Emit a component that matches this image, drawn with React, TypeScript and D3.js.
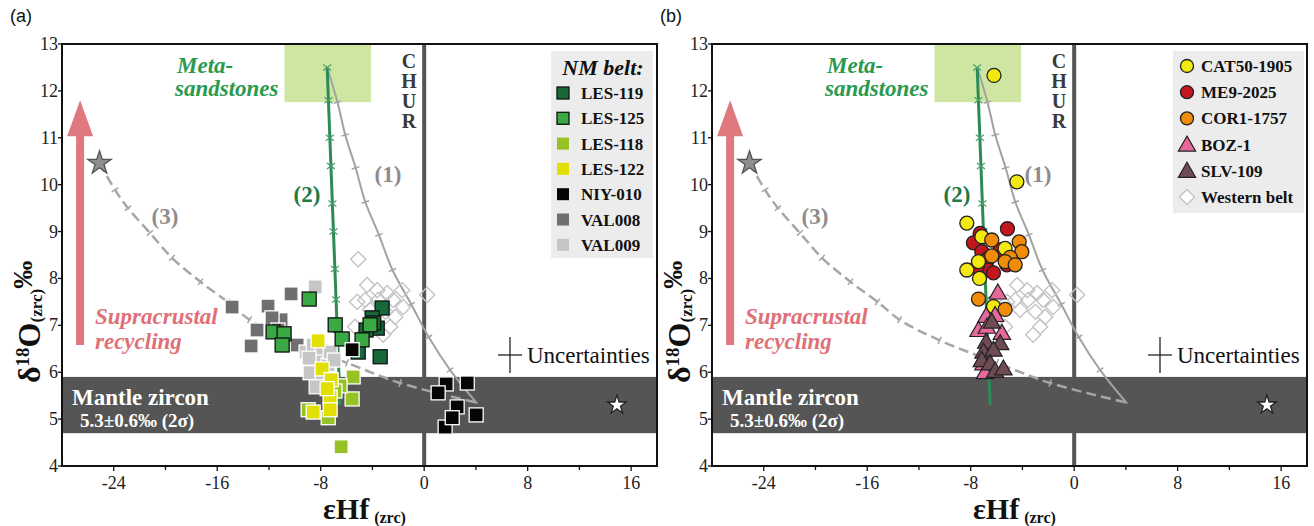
import React from 'react';
import * as d3 from 'd3';

// ---------- data ----------
const X_DOMAIN = [-28, 18];
const Y_DOMAIN = [4, 13];
const X_TICKS = [-24, -16, -8, 0, 8, 16];
const X_MINOR = [-20, -12, -4, 4, 12];
const Y_TICKS = [4, 5, 6, 7, 8, 9, 10, 11, 12, 13];

const MANTLE = [4.7, 5.9];
const META_BOX = [[-10.8, 11.76], [-4.1, 13]];
const MANTLE_STAR = [14.9, 5.3];
const CRUST_STAR = [-25.1, 10.46];
const ARROW = [[-26.6, 6.58], [-26.6, 11.8]];

const CURVE1 = [[-7.5, 12.5], [-6.7, 11.76], [-6.1, 11.06], [-5.3, 10.36], [-4.55, 9.63], [-3.5, 8.93], [-2.45, 8.18], [-1.0, 7.45], [0.35, 6.75], [2.0, 6.05], [4.1, 5.33]];
const CURVE2 = [[-7.5, 12.5], [-6.5, 5.3]];
const CURVE2_TICKS = [12.5, 11.8, 11.0, 10.4, 9.6, 9.0, 8.2, 7.55, 6.9];
const CURVE3 = [[-25.1, 10.46], [-23.9, 9.89], [-22.9, 9.5], [-21.2, 8.97], [-19.5, 8.44], [-17.3, 7.93], [-15.2, 7.5], [-13.5, 7.12], [-10.4, 6.68], [-5.96, 6.2], [-1.86, 5.77], [4.1, 5.35]];

const WESTERN = [[-5.1, 8.41], [-4.41, 7.86], [-3.63, 7.75], [-2.86, 7.69], [-1.7, 7.75], [0.23, 7.65], [-5.18, 7.5], [-4.56, 7.54], [-3.56, 7.54], [-2.4, 7.54], [-1.62, 7.39], [-2.24, 7.18], [-2.63, 6.97], [-3.17, 6.8], [-5.34, 6.97], [-4.18, 7.33], [-3.0, 7.29]];

const LES119 = [[-3.25, 7.37], [-4.02, 7.16], [-3.63, 6.94], [-3.4, 6.33], [-5.1, 6.43], [-4.49, 6.9], [-3.9, 7.05]];
const LES125 = [[-8.89, 7.56], [-6.88, 7.01], [-6.34, 6.71], [-4.8, 6.69], [-4.18, 7.01], [-11.68, 6.86], [-10.83, 6.82], [-10.98, 6.58]];
const LES118 = [[-5.49, 5.9], [-5.57, 5.43], [-6.5, 5.71], [-8.97, 5.2], [-6.42, 4.41], [-7.42, 5.03], [-6.9, 5.6]];
const LES122 = [[-8.2, 6.67], [-7.89, 6.07], [-7.19, 5.84], [-7.27, 5.47], [-7.27, 5.2], [-8.58, 5.15], [-7.5, 5.65]];
const NIY010 = [[-5.57, 6.48], [1.7, 5.75], [3.33, 5.77], [1.08, 5.56], [2.55, 5.26], [4.02, 5.09], [1.62, 4.83], [2.17, 5.03]];
const VAL008 = [[-14.85, 7.39], [-12.07, 7.41], [-10.29, 7.67], [-12.92, 6.9], [-13.38, 6.56], [-11.06, 7.12], [-11.76, 7.16], [-9.82, 6.58], [-11.3, 6.9]];
const VAL009 = [[-8.43, 7.82], [-9.13, 6.43], [-8.58, 6.58], [-7.89, 6.47], [-8.28, 6.22], [-7.42, 6.16], [-8.82, 5.99], [-7.89, 5.88], [-8.35, 5.69], [-7.27, 6.43], [-6.96, 6.26], [-8.9, 6.3]];

const CAT50 = [[-6.2, 12.33], [-4.43, 10.06], [-8.3, 9.18], [-7.14, 8.89], [-5.34, 8.64], [-7.4, 8.36], [-8.3, 8.18], [-7.32, 8.0], [-6.24, 7.4]];
const ME9 = [[-5.16, 9.06], [-7.27, 8.96], [-7.79, 8.76], [-7.14, 8.57], [-6.63, 8.43], [-6.63, 8.18], [-6.24, 8.12], [-5.2, 8.29], [-5.72, 8.61], [-7.5, 8.25]];
const COR1 = [[-6.37, 8.82], [-4.25, 8.78], [-4.05, 8.57], [-6.37, 8.48], [-4.95, 8.45], [-5.34, 8.36], [-4.56, 8.29], [-7.4, 7.56], [-5.34, 7.34]];
const BOZ1 = [[-5.9, 7.7], [-6.8, 7.2], [-6.11, 7.22], [-7.4, 6.9], [-5.59, 6.84], [-6.75, 6.97], [-7.01, 6.19], [-6.9, 6.0]];
const SLV109 = [[-6.37, 7.08], [-6.8, 6.65], [-5.72, 6.62], [-7.01, 6.44], [-6.24, 6.48], [-7.14, 6.26], [-6.5, 6.19], [-6.11, 6.03], [-5.47, 6.08]];

const LEGEND_A = ['LES-119', 'LES-125', 'LES-118', 'LES-122', 'NIY-010', 'VAL008', 'VAL009'];
const LEGEND_B = ['CAT50-1905', 'ME9-2025', 'COR1-1757', 'BOZ-1', 'SLV-109', 'Western belt'];

// ---------- styles ----------
const SERIF = '"Liberation Serif", "Times New Roman", serif';
const SANS = '"Liberation Sans", Arial, sans-serif';
const SQ_STYLE: Record<string, { fill: string; stroke: string }> = {
  'LES-119': { fill: '#17693a', stroke: '#111' },
  'LES-125': { fill: '#3aa843', stroke: '#111' },
  'LES-118': { fill: '#97c225', stroke: '#fff' },
  'LES-122': { fill: '#e2df05', stroke: '#fff' },
  'NIY-010': { fill: '#050505', stroke: '#fff' },
  'VAL008': { fill: '#6f6f6f', stroke: '#fff' },
  'VAL009': { fill: '#c6c6c6', stroke: '#fff' },
};
const B_STYLE: Record<string, { fill: string; stroke: string; shape: string }> = {
  'CAT50-1905': { fill: '#f3e80f', stroke: '#222', shape: 'circle' },
  'ME9-2025': { fill: '#c4161f', stroke: '#222', shape: 'circle' },
  'COR1-1757': { fill: '#f08c07', stroke: '#222', shape: 'circle' },
  'BOZ-1': { fill: '#e9689c', stroke: '#222', shape: 'triangle' },
  'SLV-109': { fill: '#6f4b54', stroke: '#222', shape: 'triangle' },
  'Western belt': { fill: '#fff', stroke: '#c4c4c4', shape: 'diamond' },
};

const PLOT_L = 62, PLOT_R = 657, PLOT_T = 44, PLOT_B = 466;
const xs = d3.scaleLinear().domain(X_DOMAIN).range([PLOT_L, PLOT_R]);
const ys = d3.scaleLinear().domain(Y_DOMAIN).range([PLOT_B, PLOT_T]);

const triPath = d3.symbol(d3.symbolTriangle, 130)()!;
const diaPath = d3.symbol(d3.symbolSquare, 115)()!;
const starBig = d3.symbol(d3.symbolStar, 170)()!;
const starSmall = d3.symbol(d3.symbolStar, 110)()!;

function curveTicks(pts: number[][], len: number, key: string, color: string) {
  const out: any[] = [];
  for (let i = 1; i < pts.length - 1; i++) {
    const [x0, y0] = [xs(pts[i - 1][0]), ys(pts[i - 1][1])];
    const [x1, y1] = [xs(pts[i + 1][0]), ys(pts[i + 1][1])];
    const dx = x1 - x0, dy = y1 - y0;
    const n = Math.hypot(dx, dy);
    const px = -dy / n, py = dx / n;
    const cx = xs(pts[i][0]), cy = ys(pts[i][1]);
    out.push(<line key={key + i} x1={cx - px * len} y1={cy - py * len} x2={cx + px * len} y2={cy + py * len} stroke={color} strokeWidth={1.5} />);
  }
  return out;
}

function Square({ d, style }: any) {
  return <rect x={xs(d[0]) - 7} y={ys(d[1]) - 7} width={14} height={14} fill={style.fill} stroke={style.stroke} strokeWidth={1.3} />;
}

function Marker({ d, name }: { d: number[]; name: string }) {
  const st = B_STYLE[name];
  const x = xs(d[0]), y = ys(d[1]);
  if (st.shape === 'circle') return <circle cx={x} cy={y} r={7} fill={st.fill} stroke={st.stroke} strokeWidth={1.3} />;
  if (st.shape === 'triangle') return <path d={triPath} transform={`translate(${x},${y + 1.5})`} fill={st.fill} stroke={st.stroke} strokeWidth={1.2} />;
  return <path d={diaPath} transform={`translate(${x},${y}) rotate(45)`} fill="none" stroke={st.stroke} strokeWidth={1.4} />;
}

function Panel({ ox, tag, kind }: { ox: number; tag: string; kind: 'a' | 'b' }) {
  const line = d3.line<number[]>().x(d => xs(d[0])).y(d => ys(d[1])).curve(d3.curveCatmullRom);
  const straight = d3.line<number[]>().x(d => xs(d[0])).y(d => ys(d[1]));
  const g2 = CURVE2;
  const interpX = (yv: number) => g2[0][0] + (g2[1][0] - g2[0][0]) * (yv - g2[0][1]) / (g2[1][1] - g2[0][1]);
  const ax = xs(ARROW[0][0]);
  const ab = ys(ARROW[0][1]);
  const at = ys(ARROW[1][1]);
  return (
    <g transform={`translate(${ox},0)`}>
      <text x={10} y={22} fontFamily={SANS} fontSize={18} fill="#111">{tag}</text>
      <rect x={PLOT_L} y={PLOT_T} width={PLOT_R - PLOT_L} height={PLOT_B - PLOT_T} fill="#fff" />
      {/* meta-sandstone box */}
      <rect x={xs(META_BOX[0][0])} y={ys(META_BOX[1][1])} width={xs(META_BOX[1][0]) - xs(META_BOX[0][0])} height={ys(META_BOX[0][1]) - ys(META_BOX[1][1])} fill="#cfe6a2" />
      <text fontFamily={SERIF} fontWeight="bold" fontStyle="italic" fontSize={23} fill="#2a9a50">
        <tspan x={177} y={73}>Meta-</tspan>
        <tspan x={175} y={96}>sandstones</tspan>
      </text>
      {/* CHUR */}
      <line x1={xs(0)} x2={xs(0)} y1={PLOT_T} y2={PLOT_B} stroke="#555" strokeWidth={4} />
      {['C', 'H', 'U', 'R'].map((c, i) => (
        <text key={c} x={409} y={68 + i * 20} textAnchor="middle" fontFamily={SERIF} fontWeight="bold" fontSize={20} fill="#3a3a3a">{c}</text>
      ))}
      {/* mantle band */}
      <rect x={PLOT_L} y={ys(MANTLE[1])} width={PLOT_R - PLOT_L} height={ys(MANTLE[0]) - ys(MANTLE[1])} fill="#555555" />
      <text x={72} y={405} fontFamily={SERIF} fontWeight="bold" fontSize={23} fill="#fff">Mantle zircon</text>
      <text x={80} y={427} fontFamily={SERIF} fontWeight="bold" fontSize={19} fill="#fff">5.3±0.6‰ (2σ)</text>
      <path d={starSmall} transform={`translate(${xs(MANTLE_STAR[0])},${ys(MANTLE_STAR[1])})`} fill="#fff" stroke="#222" strokeWidth={1.3} />
      {/* pink arrow */}
      <rect x={ax - 4} y={at + 34} width={8} height={ab - at - 34} fill="#df787f" />
      <path d={`M${ax},${at} L${ax + 13},${at + 36} L${ax - 13},${at + 36} Z`} fill="#df787f" />
      <text fontFamily={SERIF} fontWeight="bold" fontStyle="italic" fontSize={23} fill="#df6f78">
        <tspan x={95} y={324}>Supracrustal</tspan>
        <tspan x={95} y={349}>recycling</tspan>
      </text>
      {/* curves */}
      <path d={line(CURVE1)!} fill="none" stroke="#a2a2a2" strokeWidth={2} />
      {curveTicks(CURVE1, 4, 'c1', '#a2a2a2')}
      <path d={line(CURVE3)!} fill="none" stroke="#a6a6a6" strokeWidth={2.5} strokeDasharray="10,5" />
      {curveTicks(CURVE3, 4, 'c3', '#a6a6a6')}
      <path d={straight(CURVE2)!} fill="none" stroke="#2e8b57" strokeWidth={3} />
      {CURVE2_TICKS.map((yv, i) => {
        const x = xs(interpX(yv)), y = ys(yv);
        return <path key={'g' + i} d={`M${x - 4},${y - 3}L${x + 4},${y + 3}M${x - 4},${y + 3}L${x + 4},${y - 3}`} stroke="#4aa06a" strokeWidth={1.2} />;
      })}
      <path d={starBig} transform={`translate(${xs(CRUST_STAR[0])},${ys(CRUST_STAR[1])})`} fill="#8e8e8e" stroke="#555" strokeWidth={1.3} />
      <text x={388} y={182} textAnchor="middle" fontFamily={SERIF} fontWeight="bold" fontSize={23} fill="#8c8c8c">(1)</text>
      <text x={307} y={202} textAnchor="middle" fontFamily={SERIF} fontWeight="bold" fontSize={23} fill="#1f7a45">(2)</text>
      <text x={165} y={224} textAnchor="middle" fontFamily={SERIF} fontWeight="bold" fontSize={23} fill="#8c8c8c">(3)</text>
      {/* uncertainties */}
      <line x1={498} x2={522} y1={355} y2={355} stroke="#222" strokeWidth={1.3} />
      <line x1={510} x2={510} y1={337} y2={373} stroke="#222" strokeWidth={1.3} />
      <text x={527} y={363} fontFamily={SERIF} fontSize={23} fill="#111">Uncertainties</text>
      {/* data */}
      {WESTERN.map((d, i) => <Marker key={'w' + i} d={d} name="Western belt" />)}
      {kind === 'a' && (
        <g>
          {VAL008.map((d, i) => <Square key={'v8' + i} d={d} style={SQ_STYLE['VAL008']} />)}
          {VAL009.map((d, i) => <Square key={'v9' + i} d={d} style={SQ_STYLE['VAL009']} />)}
          {LES118.map((d, i) => <Square key={'l8' + i} d={d} style={SQ_STYLE['LES-118']} />)}
          {LES122.map((d, i) => <Square key={'l2' + i} d={d} style={SQ_STYLE['LES-122']} />)}
          {LES119.map((d, i) => <Square key={'l9' + i} d={d} style={SQ_STYLE['LES-119']} />)}
          {LES125.map((d, i) => <Square key={'l5' + i} d={d} style={SQ_STYLE['LES-125']} />)}
          {NIY010.map((d, i) => <Square key={'n' + i} d={d} style={SQ_STYLE['NIY-010']} />)}
        </g>
      )}
      {kind === 'b' && (
        <g>
          {ME9.map((d, i) => <Marker key={'m' + i} d={d} name="ME9-2025" />)}
          {CAT50.map((d, i) => <Marker key={'c' + i} d={d} name="CAT50-1905" />)}
          {COR1.map((d, i) => <Marker key={'o' + i} d={d} name="COR1-1757" />)}
          {BOZ1.map((d, i) => <Marker key={'b' + i} d={d} name="BOZ-1" />)}
          {SLV109.map((d, i) => <Marker key={'s' + i} d={d} name="SLV-109" />)}
        </g>
      )}
      {/* legend */}
      {kind === 'a' ? (
        <g>
          <rect x={551} y={51} width={102} height={207} fill="#ececec" />
          <text x={603} y={75} textAnchor="middle" fontFamily={SERIF} fontWeight="bold" fontStyle="italic" fontSize={22} fill="#111">NM belt:</text>
          {LEGEND_A.map((n, i) => {
            const y = 93 + i * 25.3;
            const st = SQ_STYLE[n];
            return (
              <g key={n}>
                <rect x={557} y={y - 6} width={12} height={12} fill={st.fill} stroke={st.stroke === '#fff' ? 'none' : st.stroke} strokeWidth={1.3} />
                <text x={581} y={y + 6} fontFamily={SERIF} fontWeight="bold" fontSize={17} fill="#111">{n}</text>
              </g>
            );
          })}
        </g>
      ) : (
        <g>
          <rect x={523} y={51} width={131} height={162} fill="#ececec" />
          {LEGEND_B.map((n, i) => {
            const y = 66 + i * 26.2;
            const st = B_STYLE[n];
            const lx = 537;
            return (
              <g key={n}>
                {st.shape === 'circle' && <circle cx={lx} cy={y} r={6.5} fill={st.fill} stroke={st.stroke} strokeWidth={1.3} />}
                {st.shape === 'triangle' && <path d={triPath} transform={`translate(${lx},${y + 1.5})`} fill={st.fill} stroke={st.stroke} strokeWidth={1.2} />}
                {st.shape === 'diamond' && <path d={diaPath} transform={`translate(${lx},${y}) rotate(45)`} fill="#fff" stroke={st.stroke} strokeWidth={1.4} />}
                <text x={551} y={y + 6} fontFamily={SERIF} fontWeight="bold" fontSize={17} fill="#111">{n}</text>
              </g>
            );
          })}
        </g>
      )}
      {/* frame */}
      <rect x={PLOT_L} y={PLOT_T} width={PLOT_R - PLOT_L} height={PLOT_B - PLOT_T} fill="none" stroke="#111" strokeWidth={2} />
      {/* axes */}
      {Y_TICKS.map(t => (
        <g key={'y' + t}>
          <line x1={PLOT_L - 4} x2={PLOT_L} y1={ys(t)} y2={ys(t)} stroke="#111" strokeWidth={1.3} />
          <text x={PLOT_L - 4} y={ys(t) + 6} textAnchor="end" fontFamily={SERIF} fontSize={18} fill="#222">{t}</text>
        </g>
      ))}
      {X_TICKS.map(t => (
        <g key={'x' + t}>
          <line x1={xs(t)} x2={xs(t)} y1={PLOT_B} y2={PLOT_B + 5} stroke="#111" strokeWidth={1.3} />
          <text x={xs(t)} y={PLOT_B + 23} textAnchor="middle" fontFamily={SERIF} fontSize={18} fill="#222">{t}</text>
        </g>
      ))}
      {X_MINOR.map(t => (
        <line key={'xm' + t} x1={xs(t)} x2={xs(t)} y1={PLOT_B} y2={PLOT_B + 4} stroke="#111" strokeWidth={1.3} />
      ))}
      <text x={323} y={519} fontFamily={SERIF} fontWeight="bold" fill="#111">
        <tspan fontSize={30}>εHf</tspan>
        <tspan fontSize={16} dx={5} dy={4}>(zrc)</tspan>
      </text>
      <text transform={`translate(40,383) rotate(-90)`} fontFamily={SERIF} fontWeight="bold" fill="#111">
        <tspan fontSize={32}>δ</tspan>
        <tspan fontSize={19} dy={-11}>18</tspan>
        <tspan fontSize={32} dy={11}>O</tspan>
        <tspan fontSize={17} dy={2}>(zrc)</tspan>
        <tspan fontSize={28} dy={-10}>‰</tspan>
      </text>
    </g>
  );
}

export default function App() {
  return (
    <svg width={1314} height={526} style={{ position: 'absolute', left: 0, top: 0, background: '#fff' }}>
      <Panel ox={0} tag="(a)" kind="a" />
      <Panel ox={650} tag="(b)" kind="b" />
    </svg>
  );
}
